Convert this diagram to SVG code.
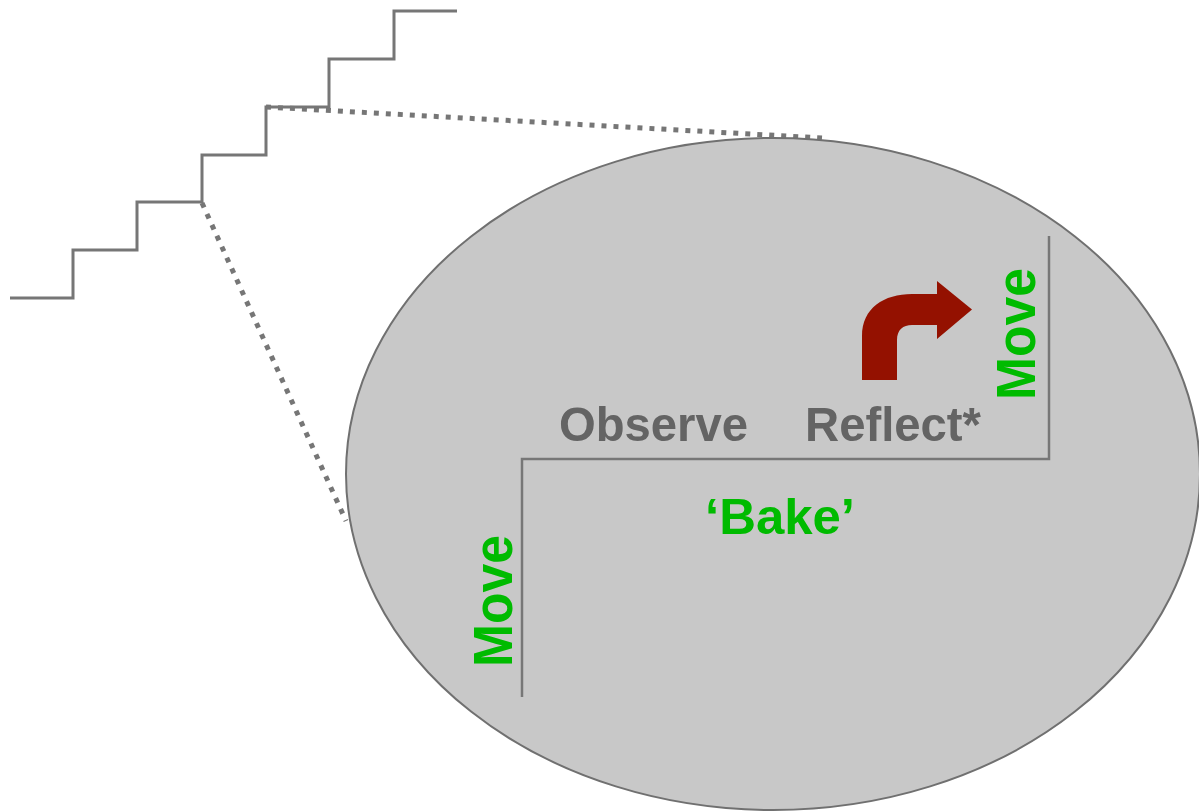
<svg xmlns="http://www.w3.org/2000/svg" width="1199" height="812" viewBox="0 0 1199 812">
  <style>
    .stair { fill: none; stroke: #767676; stroke-width: 3; stroke-linejoin: miter; }
    .dots { fill: none; stroke: #767676; stroke-width: 5; stroke-dasharray: 5 7; }
    .step { fill: none; stroke: #777777; stroke-width: 2.5; }
    .lbl { font-family: "Liberation Sans", Arial, sans-serif; font-weight: bold; }
    .grey { fill: #646464; font-size: 49px; }
    .green { fill: #00BB00; font-size: 50px; }
    .move { fill: #00BB00; font-size: 55px; }
  </style>
  <rect width="1199" height="812" fill="#ffffff"/>

  <!-- staircase -->
  <g id="staircase">
    <polyline class="stair" points="10,298 73,298 73,250 137,250 137,202 202,202 202,155 266,155 266,107 329,107 329,59 394,59 394,11 457,11"/>
  </g>

  <!-- zoom lines from one step to the magnified view -->
  <g id="connectors">
    <line class="dots" x1="266" y1="107" x2="822" y2="138"/>
    <line class="dots" x1="202" y1="203" x2="346" y2="521"/>
  </g>

  <!-- magnified step -->
  <g id="zoom-view">
    <ellipse cx="773" cy="474" rx="427" ry="336" fill="#C8C8C8" stroke="#707070" stroke-width="2"/>
    <polyline class="step" points="522,697 522,459 1049,459 1049,236"/>
  </g>

  <g id="observe">
    <text class="lbl grey" x="559" y="441" textLength="189" lengthAdjust="spacingAndGlyphs">Observe</text>
  </g>

  <g id="reflect">
    <text class="lbl grey" x="805" y="441" textLength="176" lengthAdjust="spacingAndGlyphs">Reflect*</text>
  </g>

  <g id="bake">
    <text class="lbl green" x="705" y="534" textLength="150" lengthAdjust="spacingAndGlyphs">‘Bake’</text>
  </g>

  <g id="move-left">
    <text class="lbl move" transform="translate(512,667) rotate(-90)" textLength="132" lengthAdjust="spacingAndGlyphs">Move</text>
  </g>

  <g id="move-right">
    <text class="lbl move" transform="translate(1035,400) rotate(-90)" textLength="132" lengthAdjust="spacingAndGlyphs">Move</text>
  </g>

  <g id="turn-arrow">
    <path d="M862,380 L862,336 C862,308 884,294 912,294 L937,294 L937,281 L972,309.5 L937,339 L937,325 L912,325 C903,325 897,330 897,340 L897,380 Z" fill="#941100"/>
  </g>
</svg>
